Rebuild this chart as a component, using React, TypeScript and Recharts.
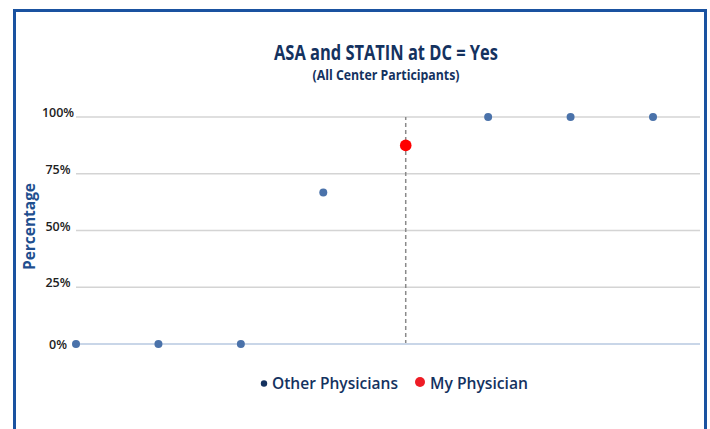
import React from 'react';
import { ScatterChart, Scatter, XAxis, YAxis, CartesianGrid, ReferenceLine } from 'recharts';

const positions = [1, 2, 3, 4, 5, 6, 7, 8];
const otherValues: (number | null)[] = [0, 0, 0, 66.7, null, 100, 100, 100];
const myPosition = 5;
const myValue = 87.5;
const yTicks = [0, 25, 50, 75, 100];
const title = 'ASA and STATIN at DC = Yes';
const subtitle = '(All Center Participants)';
const yLabel = 'Percentage';
const seriesNames = ['Other Physicians', 'My Physician'];

const otherData = positions
  .map((p, i) => ({ x: p, y: otherValues[i] }))
  .filter((d) => d.y !== null);
const myData = [{ x: myPosition, y: myValue }];

const NAVY = '#14325f';

const YTick = (props: any) => {
  const { y, payload } = props;
  const dy = payload.value === 0 ? 4.5 : 0;
  return (
    <text x={58} y={y + dy} textAnchor="middle" fontFamily="Open Sans" fontWeight={600} fontSize={12.5} fill="#222">
      {`${payload.value}%`}
    </text>
  );
};

const YLabel = (props: any) => {
  const vb = props.viewBox || {};
  const cy = vb.y + vb.height / 2 - 4;
  return (
    <text
      x={34.5}
      y={cy}
      transform={`rotate(-90, 34.5, ${cy})`}
      textAnchor="middle"
      fontFamily="Open Sans"
      fontWeight={700}
      fontSize={16}
      fill="#1f4f8f"
      textLength={87}
      lengthAdjust="spacingAndGlyphs"
    >
      {yLabel}
    </text>
  );
};

export default function App() {
  return (
    <div style={{ position: 'fixed', left: 0, top: 0, width: 710, height: 429, background: '#fff', overflow: 'hidden' }}>
      <div
        style={{
          position: 'absolute',
          left: 13,
          top: 9,
          width: 688,
          height: 440,
          border: '3px solid #1a52a0',
        }}
      />
      <svg style={{ position: 'absolute', left: 0, top: 0 }} width={710} height={100}>
        <text x={386} y={60} textAnchor="middle" fontFamily="Open Sans" fontWeight={700} fontSize={21} fill={NAVY} textLength={224} lengthAdjust="spacingAndGlyphs">
          {title}
        </text>
        <text x={386} y={80} textAnchor="middle" fontFamily="Open Sans" fontWeight={700} fontSize={14.5} fill={NAVY} textLength={147} lengthAdjust="spacingAndGlyphs">
          {subtitle}
        </text>
      </svg>
      <div style={{ position: 'absolute', left: 0, top: 0 }}>
        <ScatterChart width={710} height={429} margin={{ top: 117, right: 10, bottom: 65, left: 16 }}>
          <CartesianGrid vertical={false} horizontal stroke="#d4d4d4" strokeWidth={1.5} />
          <XAxis
            type="number"
            dataKey="x"
            domain={[1, 8.57]}
            ticks={positions}
            tick={false}
            height={20}
            stroke="#c9d6e8"
            strokeWidth={2}
            tickLine={{ stroke: '#c9d6e8', strokeWidth: 1.5 }}
            tickSize={5}
          />
          <YAxis
            type="number"
            dataKey="y"
            domain={[0, 100]}
            ticks={yTicks}
            width={60}
            axisLine={false}
            tickLine={false}
            tickSize={0}
            tickMargin={1}
            tick={<YTick />}
            label={<YLabel />}
          />
          <ReferenceLine x={myPosition} stroke="#8a8a8a" strokeWidth={1.5} strokeDasharray="4 3" />
          <Scatter name={seriesNames[0]} data={otherData} fill="#4a72aa" isAnimationActive={false} shape={(p: any) => <circle cx={p.cx} cy={p.cy} r={4} fill="#4a72aa" />} />
          <Scatter name={seriesNames[1]} data={myData} fill="#ff0000" isAnimationActive={false} shape={(p: any) => <circle cx={p.cx} cy={p.cy} r={5.8} fill="#ff0000" />} />
        </ScatterChart>
      </div>
      <svg style={{ position: 'absolute', left: 0, top: 370 }} width={710} height={30}>
        <circle cx={264} cy={13.5} r={3.2} fill={NAVY} />
        <text x={272} y={19} fontFamily="Open Sans" fontWeight={600} fontSize={15.5} fill={NAVY} textLength={126} lengthAdjust="spacingAndGlyphs">
          {seriesNames[0]}
        </text>
        <circle cx={420} cy={12} r={5} fill="#ee1c25" />
        <text x={430} y={19} fontFamily="Open Sans" fontWeight={600} fontSize={15.5} fill={NAVY} textLength={98} lengthAdjust="spacingAndGlyphs">
          {seriesNames[1]}
        </text>
      </svg>
    </div>
  );
}
